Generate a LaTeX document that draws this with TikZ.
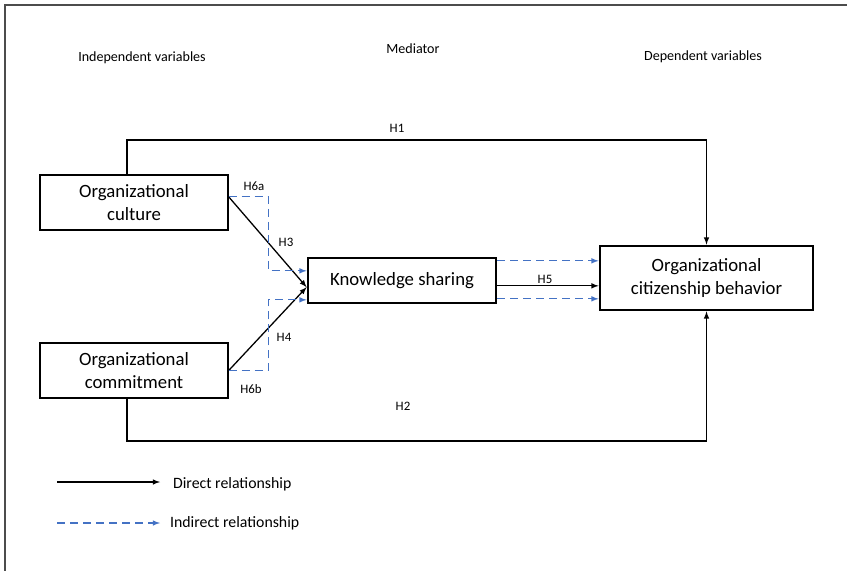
\documentclass[tikz,border=0pt]{standalone}
\usepackage{fontspec}
\setmainfont{Carlito}
\usetikzlibrary{positioning,calc}
\definecolor{indblue}{RGB}{68,114,196}

\begin{document}
\begin{tikzpicture}[x=0.03cm, y=-0.03cm, >=latex,
    every node/.style={font=\fontsize{12}{14}\selectfont},
    varbox/.style={draw, line width=1.2pt, minimum width=5.64cm, minimum height=1.65cm, align=center, font=\fontsize{16}{19}\selectfont},
    keybox/.style={draw, line width=2.4pt, align=center, font=\fontsize{16}{19}\selectfont},
    direct/.style={->, line width=1.1pt},
    indirect/.style={->, line width=1.1pt, indblue, dash pattern=on 0.24cm off 0.15cm},
    hlab/.style={font=\fontsize{11}{13}\selectfont},
    leglab/.style={anchor=west, font=\fontsize{13.5}{16}\selectfont}]
    \useasboundingbox (0,0) rectangle (847,571);
    \draw[line width=1.2pt, black!70] (5,571) -- (5,5) -- (847,5);
    \node (indep) at (142,58) {Independent variables};
    \node (medi) at (413,49) {Mediator};
    \node (dep) at (703,57) {Dependent variables};
    \node[varbox] (oc) at (134,202.5) {Organizational\\culture};
    \node[varbox] (ocm) at (134,370.5) {Organizational\\commitment};
    \node[keybox, minimum width=5.64cm, minimum height=1.35cm] (ks) at (402,280.5) {Knowledge sharing};
    \node[keybox, minimum width=6.39cm, minimum height=1.92cm] (ocb) at (706.5,278) {Organizational\\citizenship behavior};
    \coordinate (top) at (400,140);
    \coordinate (bot) at (400,441);
    \coordinate (ocout) at ([yshift=0.17cm]oc.east);
    \coordinate (ocmout) at (ocm.east);
    \coordinate (ksin) at ([yshift=-0.2cm]ks.west);
    \draw[direct] ([xshift=-0.21cm]oc.north) |- (top) -| (ocb.north);
    \draw[direct] ([xshift=-0.21cm]ocm.south) |- (bot) -| (ocb.south);
    \draw[direct] (ocout) -- (ksin);
    \draw[direct] (ocmout) -- (ksin);
    \draw[indirect] (ocout) -| ($(ocout)+(40,0)$) |- ([yshift=0.29cm]ks.west);
    \draw[indirect] (ocmout) -| ($(ocmout)+(40,0)$) |- ([yshift=-0.58cm]ks.west);
    \draw[indirect] ([yshift=0.59cm]ks.east) -- ([yshift=0.59cm]ks.east -| ocb.west);
    \draw[direct] ([yshift=-0.16cm]ks.east) -- ([yshift=-0.16cm]ks.east -| ocb.west);
    \draw[indirect] ([yshift=-0.55cm]ks.east) -- ([yshift=-0.55cm]ks.east -| ocb.west);
    \node[hlab] (h1) at (397,128) {H1};
    \node[hlab] (h2) at (403,406) {H2};
    \node[hlab] (h3) at (286,242) {H3};
    \node[hlab] (h4) at (284,337) {H4};
    \node[hlab] (h5) at (545,279) {H5};
    \node[hlab] (h6a) at (254,186) {H6a};
    \node[hlab] (h6b) at (251,389) {H6b};
    \coordinate (d1) at (57,482);
    \coordinate (d2) at (160,482);
    \coordinate (i1) at (57,523);
    \coordinate (i2) at (160,523);
    \draw[direct] (d1) -- (d2);
    \draw[indirect] (i1) -- (i2);
    \node[leglab] (dlab) at (169,484) {Direct relationship};
    \node[leglab] (ilab) at (166,523) {Indirect relationship};
\end{tikzpicture}
\end{document}
